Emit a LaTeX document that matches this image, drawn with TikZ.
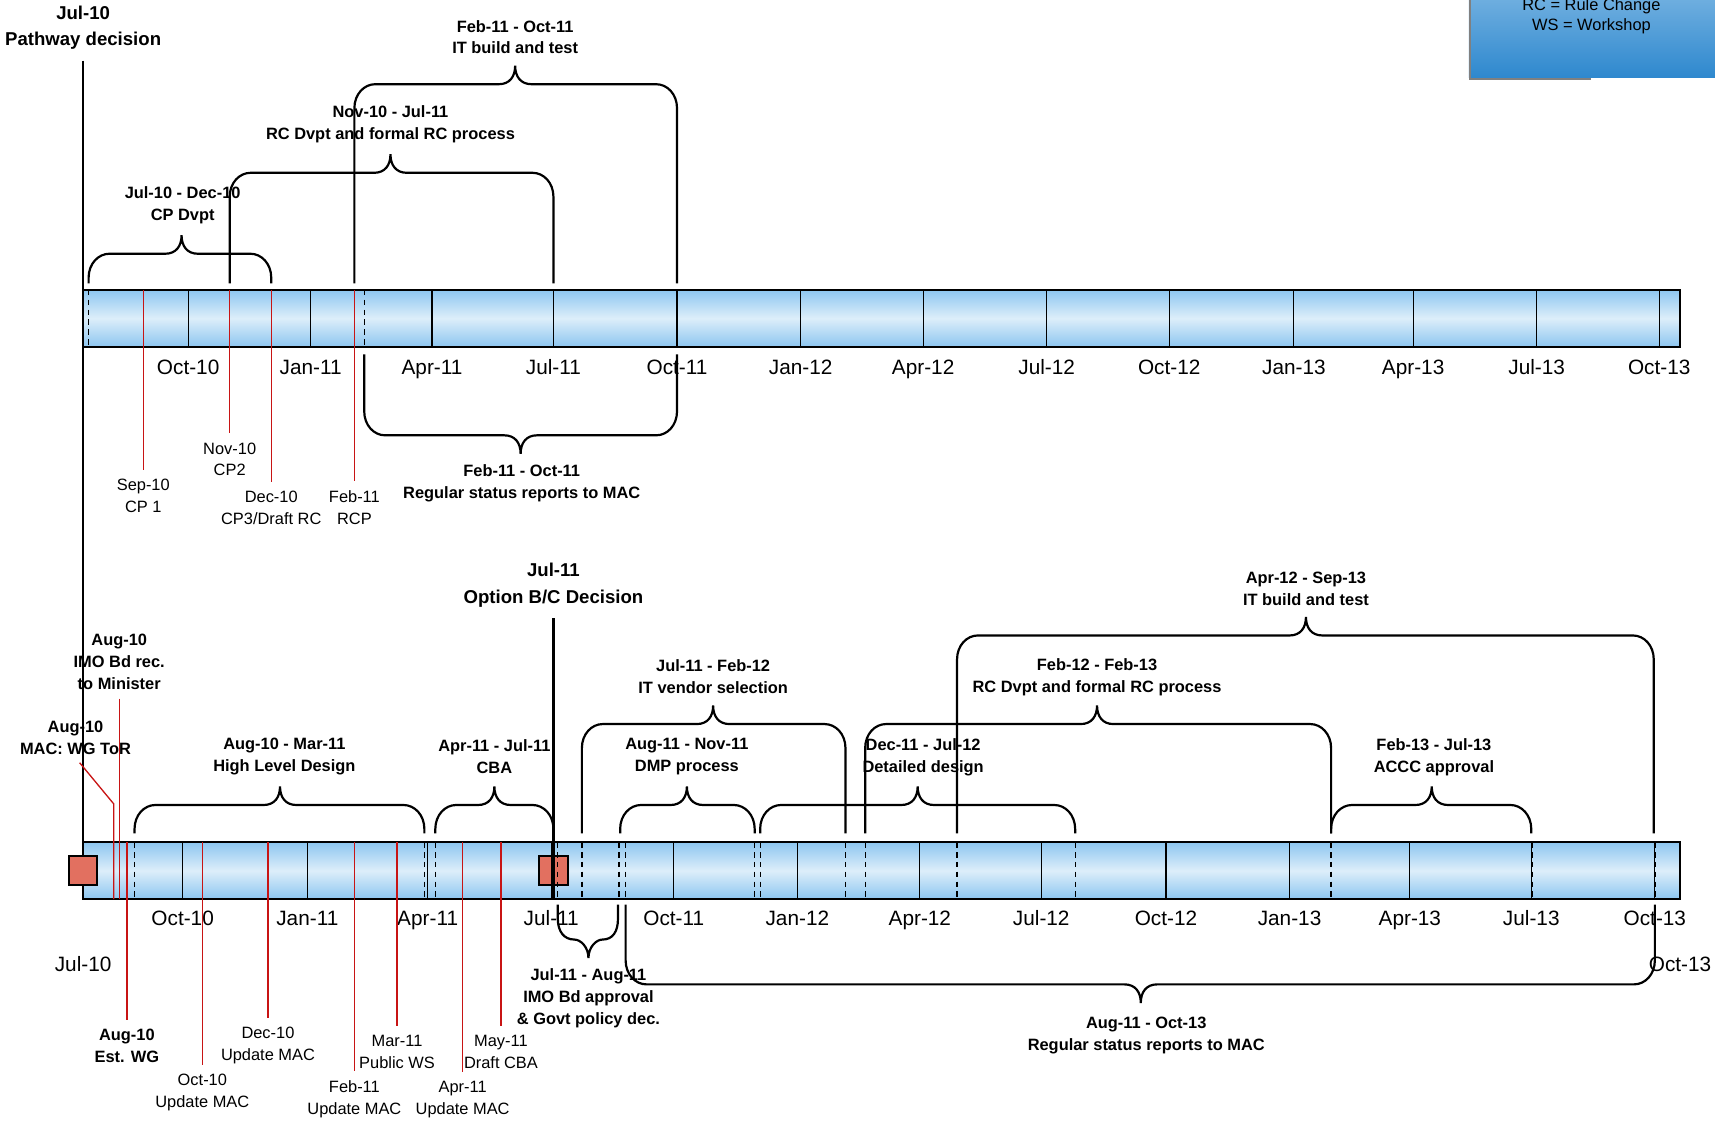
\documentclass[tikz,border=0pt]{standalone}
\usepackage{fontspec}
\setmainfont{Liberation Sans}

\definecolor{barblue}{RGB}{141,198,240}
\definecolor{barlight}{RGB}{221,238,250}
\definecolor{markred}{RGB}{200,20,20}
\definecolor{msred}{RGB}{226,112,96}
\definecolor{legtop}{RGB}{120,180,226}
\definecolor{legbot}{RGB}{46,136,206}

% curly span bracket: x-left, x-right, y-end, y-line, x-peak, side (1 up, -1 down)
\newcommand\spanbrace[6]{%
  \draw[spanline] (#1,#3) -- (#1,{#4+22*(#6)})
    .. controls (#1,{#4+9*(#6)}) and ({#1+9},#4) .. ({#1+19},#4)
    -- ({#5-15},#4)
    .. controls ({#5-5},#4) and (#5,{#4-7*(#6)}) .. (#5,{#4-17*(#6)})
    .. controls (#5,{#4-7*(#6)}) and ({#5+5},#4) .. ({#5+15},#4)
    -- ({#2-19},#4)
    .. controls ({#2-9},#4) and (#2,{#4+9*(#6)}) .. (#2,{#4+22*(#6)})
    -- (#2,#3);}

\begin{document}
\begin{tikzpicture}[
        x=0.5pt, y=-0.5pt,
        timebar/.style={rectangle, draw, line width=0.8pt, top color=barblue, bottom color=barblue, middle color=barlight, minimum width=730pt, minimum height=26pt, inner sep=0pt, outer sep=0pt, anchor=north west},
        msbox/.style={rectangle, draw, line width=0.9pt, fill=msred, minimum size=13pt, inner sep=0pt},
        qtick/.style={line width=0.5pt},
        dashmark/.style={line width=0.6pt, dash pattern=on 2.5pt off 2pt},
        redmark/.style={draw=markred, line width=0.6pt},
        decisionline/.style={line width=1pt},
        spanline/.style={line width=1pt},
        axislabel/.style={font=\fontsize{9.5}{11}\selectfont, anchor=base, inner sep=0pt},
        notelabel/.style={font=\fontsize{7.5}{10}\selectfont, align=center, inner sep=1pt},
        spanlabel/.style={font=\bfseries\fontsize{7.5}{10}\selectfont, align=center, inner sep=1pt},
        headline/.style={font=\bfseries\fontsize{8.5}{12}\selectfont, align=center, inner sep=2pt}
    ]

    \useasboundingbox (0,0) rectangle (1568,1026);
    \clip (0,0) rectangle (1568,1026);

    % Legend
    \shade[top color=legtop, bottom color=legbot] (1343,-12) rectangle (1575,71);
    \draw[gray, line width=0.8pt] (1344,-12) -- (1344,72) -- (1455,72);
    \node[notelabel, font=\fontsize{7.5}{9}\selectfont] (legendtext) at (1455,15) {RC = Rule Change\\WS = Workshop};

    % Timeline bars
    \node[timebar] (topbar) at (76,265) {};
    \node[timebar] (botbar) at (76,770) {};
    \node[msbox] (jul11sq) at (506,796) {};

    \foreach \x/\q in {172/Oct-10, 284/Jan-11, 395/Apr-11, 506/Jul-11, 619/Oct-11, 732/Jan-12, 844/Apr-12, 957/Jul-12, 1069/Oct-12, 1183/Jan-13, 1292/Apr-13, 1405/Jul-13, 1517/Oct-13}{
        \draw[qtick] (\x,265) -- (\x,317);
        \node[axislabel] (t\q) at (\x,342) {\q};
    }
    \foreach \x/\q in {167/Oct-10, 281/Jan-11, 391/Apr-11, 504/Jul-11, 616/Oct-11, 729/Jan-12, 841/Apr-12, 952/Jul-12, 1066/Oct-12, 1179/Jan-13, 1289/Apr-13, 1400/Jul-13, 1513/Oct-13}{
        \draw[qtick] (\x,770) -- (\x,822);
        \node[axislabel] (b\q) at (\x,846) {\q};
    }
    \node[axislabel] (jul10lab) at (76,888) {Jul-10};
    \node[axislabel] (oct13lab) at (1536,888) {Oct-13};

    % Span ends through the bars
    \foreach \x in {81, 210, 248, 324, 333, 506, 619}
        \draw[dashmark] (\x,265) -- (\x,317);
    \foreach \x in {123, 388, 398, 510, 532, 566, 572, 690, 695, 773, 791, 875, 983, 1217, 1401, 1513}
        \draw[dashmark] (\x,770) -- (\x,822);

    % Decisions
    \node[headline] (pathway) at (76,25) {Jul-10\\Pathway decision};
    \node[headline] (optionbc) at (506,535) {Jul-11\\Option B/C Decision};
    \draw[decisionline, shorten <=3pt] (pathway.south) -- (pathway.south |- botbar.south);
    \draw[decisionline, shorten <=3pt] (optionbc.south) -- (optionbc.south |- botbar.south);

    % Top milestones
    \node[notelabel] (cp1) at (131,453) {Sep-10\\CP 1};
    \node[notelabel] (cp2) at (210,420) {Nov-10\\CP2};
    \node[notelabel] (cp3) at (248,464) {Dec-10\\CP3/Draft RC};
    \node[notelabel] (rcp) at (324,464) {Feb-11\\RCP};
    \draw[redmark, shorten >=3pt] (cp1.north |- topbar.north) -- (cp1.north);
    \draw[redmark, shorten >=3pt] (cp2.north |- topbar.north) -- (cp2.north);
    \draw[redmark, shorten >=3pt] (cp3.north |- topbar.north) -- (cp3.north);
    \draw[redmark, shorten >=3pt] (rcp.north |- topbar.north) -- (rcp.north);

    % Top spans
    \spanbrace{81}{248}{259}{232}{166}{1}
    \spanbrace{210}{506}{259}{158}{357}{1}
    \spanbrace{324}{619}{259}{77}{471}{1}
    \spanbrace{333}{619}{324}{398}{476}{-1}
    \node[spanlabel] (cpdvpt) at (167,188) {Jul-10 - Dec-10\\CP Dvpt};
    \node[spanlabel] (rcdvpt) at (357,114) {Nov-10 - Jul-11\\RC Dvpt and formal RC process};
    \node[spanlabel] (itbuild) at (471,34) {Feb-11 - Oct-11\\IT build and test};
    \node[spanlabel] (statustop) at (477,442) {Feb-11 - Oct-11\\Regular status reports to MAC};

    % Bottom milestones
    \node[spanlabel] (imorec) at (109,605) {Aug-10\\IMO Bd rec.\\to Minister};
    \node[spanlabel] (mactor) at (69,675) {Aug-10\\MAC: WG ToR};
    \node[spanlabel] (estwg) at (116,956) {Aug-10\\Est. WG};
    \node[notelabel] (updoct) at (185,999) {Oct-10\\Update MAC};
    \node[notelabel] (upddec) at (245,956) {Dec-10\\Update MAC};
    \node[notelabel] (updfeb) at (324,1005) {Feb-11\\Update MAC};
    \node[notelabel] (pubws) at (363,962) {Mar-11\\Public WS};
    \node[notelabel] (updapr) at (423,1005) {Apr-11\\Update MAC};
    \node[notelabel] (draftcba) at (458,962) {May-11\\Draft CBA};
    \coordinate (torbend) at (104,735);
    \draw[redmark, shorten <=3pt] (mactor.south) -- (torbend) -- (torbend |- botbar.south);
    \draw[redmark, shorten <=3pt] (imorec.south) -- (imorec.south |- botbar.south);
    \draw[redmark, shorten >=3pt] (estwg.north |- botbar.north) -- (estwg.north);
    \draw[redmark, shorten >=3pt] (updoct.north |- botbar.north) -- (updoct.north);
    \draw[redmark, shorten >=3pt] (upddec.north |- botbar.north) -- (upddec.north);
    \draw[redmark, shorten >=3pt] (updfeb.north |- botbar.north) -- (updfeb.north);
    \draw[redmark, shorten >=3pt] (pubws.north |- botbar.north) -- (pubws.north);
    \draw[redmark, shorten >=3pt] (updapr.north |- botbar.north) -- (updapr.north);
    \draw[redmark, shorten >=3pt] (draftcba.north |- botbar.north) -- (draftcba.north);

    % Bottom spans
    \spanbrace{123}{388}{762}{736}{256}{1}
    \spanbrace{398}{506}{762}{736}{452}{1}
    \spanbrace{567}{690}{762}{736}{628}{1}
    \spanbrace{695}{983}{762}{736}{839}{1}
    \spanbrace{1217}{1400}{762}{736}{1309}{1}
    \spanbrace{532}{773}{762}{662}{652}{1}
    \spanbrace{791}{1217}{762}{662}{1003}{1}
    \spanbrace{875}{1512}{762}{581}{1194}{1}
    \spanbrace{572}{1513}{827}{900}{1043}{-1}
    \draw[spanline] (510,827) -- (510,840) .. controls (510,852) and (516,859) .. (525,859)
        .. controls (531,859) and (538,866) .. (538,876)
        .. controls (538,866) and (545,859) .. (551,859)
        .. controls (560,859) and (565,852) .. (565,840) -- (565,827);
    \node[spanlabel] (hld) at (260,692) {Aug-10 - Mar-11\\High Level Design};
    \node[spanlabel] (cba) at (452,692) {Apr-11 - Jul-11\\CBA};
    \node[spanlabel] (dmp) at (628,692) {Aug-11 - Nov-11\\DMP process};
    \node[spanlabel] (design) at (844,692) {Dec-11 - Jul-12\\Detailed design};
    \node[spanlabel] (accc) at (1311,692) {Feb-13 - Jul-13\\ACCC approval};
    \node[spanlabel] (vendor) at (652,619) {Jul-11 - Feb-12\\IT vendor selection};
    \node[spanlabel] (rcformal) at (1003,619) {Feb-12 - Feb-13\\RC Dvpt and formal RC process};
    \node[spanlabel] (itbuildtwo) at (1194,538) {Apr-12 - Sep-13\\IT build and test};
    \node[spanlabel] (imoapp) at (538,913) {Jul-11 - Aug-11\\IMO Bd approval\\\& Govt policy dec.};
    \node[spanlabel] (statusbot) at (1048,947) {Aug-11 - Oct-13\\Regular status reports to MAC};

    \node[msbox] (jul10sq) at (76,796) {};

    \end{tikzpicture}
\end{document}
